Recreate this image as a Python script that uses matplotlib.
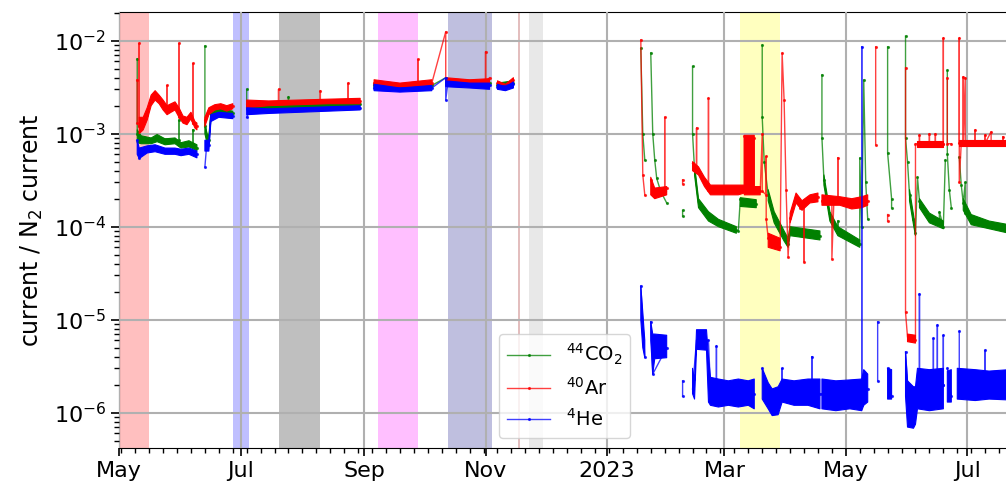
import numpy as np
import pandas as pd
import matplotlib
matplotlib.use('Agg')
import matplotlib.pyplot as plt
import matplotlib.dates as mdates
from matplotlib.ticker import FuncFormatter

# ratio traces (date, value); None marks a gap in the record
co2_trace = [
    ('2022-05-10', 6.4e-3), ('2022-05-10', 1.0e-3), ('2022-05-12', 8.5e-4), ('2022-05-20', 9.0e-4),
    ('2022-05-31', 8.5e-4), ('2022-05-31', 1.4e-3), ('2022-05-31', 7.8e-4), ('2022-06-07', 7.6e-4),
    ('2022-06-07', 1.1e-3), ('2022-06-07', 7.4e-4), ('2022-06-09', 7.0e-4), ('2022-06-11', None),
    ('2022-06-13', 8.8e-3), ('2022-06-13', 1.2e-3), ('2022-06-15', 8.5e-4), ('2022-06-16', 1.6e-3),
    ('2022-06-20', 1.75e-3), ('2022-06-27', 1.65e-3), ('2022-06-30', None),
    ('2022-07-04', 3.0e-3), ('2022-07-04', 1.95e-3), ('2022-07-25', 1.95e-3), ('2022-07-25', 2.5e-3),
    ('2022-07-25', 2.0e-3), ('2022-08-30', 2.1e-3), ('2022-09-02', None),
    ('2022-09-06', 3.3e-3), ('2022-10-05', 3.3e-3), ('2022-10-12', 4.0e-3), ('2022-10-13', 3.5e-3),
    ('2022-11-03', 3.5e-3), ('2022-11-05', None), ('2022-11-07', 3.3e-3), ('2022-11-15', 3.5e-3),
    ('2022-12-31', None),
    ('2023-01-18', 8.3e-3), ('2023-01-19', 1.0e-3), ('2023-01-20', 5.2e-4), ('2023-01-21', None),
    ('2023-01-23', 7.4e-3), ('2023-01-24', 1.0e-3), ('2023-01-25', 5.2e-4), ('2023-01-26', 3.3e-4),
    ('2023-01-28', 2.4e-4), ('2023-01-31', 1.8e-4), ('2023-02-02', None),
    ('2023-02-08', 1.5e-4), ('2023-02-08', 1.3e-4), ('2023-02-10', None),
    ('2023-02-13', 5.3e-3), ('2023-02-13', 1.0e-3), ('2023-02-14', 4.1e-4), ('2023-02-16', 1.8e-4),
    ('2023-02-21', 1.3e-4), ('2023-02-26', 1.1e-4), ('2023-03-07', 9.2e-5), ('2023-03-08', 9.0e-5),
    ('2023-03-09', 2.0e-4), ('2023-03-17', 1.75e-4), ('2023-03-18', None),
    ('2023-03-20', 9.0e-3), ('2023-03-20', 1.5e-3), ('2023-03-21', 5.0e-4), ('2023-03-23', 2.2e-4),
    ('2023-03-26', 1.3e-4), ('2023-03-31', 8.0e-5), ('2023-04-02', 6.5e-5), ('2023-04-03', 9.0e-5),
    ('2023-04-10', 8.5e-5), ('2023-04-18', 8.0e-5), ('2023-04-18', None),
    ('2023-04-19', 4.3e-3), ('2023-04-19', 9.0e-4), ('2023-04-20', 3.2e-4), ('2023-04-23', 1.3e-4),
    ('2023-04-27', 9.0e-5), ('2023-04-27', 1.15e-4), ('2023-04-27', 8.5e-5), ('2023-05-03', 7.5e-5),
    ('2023-05-08', 6.5e-5), ('2023-05-08', 5.5e-4), ('2023-05-09', 1.0e-4), ('2023-05-10', 3.8e-3),
    ('2023-05-11', 3.0e-4), ('2023-05-12', 1.2e-4), ('2023-05-14', None),
    ('2023-05-22', 8.6e-3), ('2023-05-22', 6.2e-4), ('2023-05-24', 2.0e-4), ('2023-05-24', 1.6e-4),
    ('2023-05-26', None),
    ('2023-05-31', 1.12e-2), ('2023-05-31', 9.0e-4), ('2023-06-01', 5.0e-4), ('2023-06-02', 2.2e-4),
    ('2023-06-04', 1.2e-4), ('2023-06-05', 8.5e-5), ('2023-06-06', 3.4e-4), ('2023-06-07', 1.9e-4),
    ('2023-06-10', 1.4e-4), ('2023-06-13', 1.15e-4), ('2023-06-17', 1.2e-4), ('2023-06-17', 1.45e-4),
    ('2023-06-19', 1.0e-4), ('2023-06-20', 5.2e-4), ('2023-06-20', None),
    ('2023-06-21', 4.8e-3), ('2023-06-21', 6.0e-4), ('2023-06-22', 2.5e-4), ('2023-06-23', 1.6e-4),
    ('2023-06-25', None),
    ('2023-06-27', 5.6e-4), ('2023-06-28', 2.8e-4), ('2023-06-29', 1.8e-4), ('2023-06-30', 3.0e-4),
    ('2023-06-30', 1.4e-4), ('2023-07-05', 1.15e-4), ('2023-07-12', 1.0e-4), ('2023-07-22', 9.2e-5),
]

ar_trace = [
    ('2022-05-10', 3.8e-3), ('2022-05-10', 1.3e-3), ('2022-05-11', 1.2e-3), ('2022-05-11', 9.4e-3),
    ('2022-05-11', 1.2e-3), ('2022-05-15', 1.6e-3), ('2022-05-17', 2.3e-3), ('2022-05-19', 2.6e-3),
    ('2022-05-21', 2.3e-3), ('2022-05-24', 2.0e-3), ('2022-05-25', 1.9e-3), ('2022-05-25', 3.3e-3),
    ('2022-05-25', 1.8e-3), ('2022-05-29', 2.0e-3), ('2022-05-31', 1.7e-3), ('2022-05-31', 9.4e-3),
    ('2022-05-31', 1.5e-3), ('2022-06-03', 1.4e-3), ('2022-06-05', 1.55e-3), ('2022-06-07', 1.3e-3),
    ('2022-06-07', 5.7e-3), ('2022-06-07', 1.3e-3), ('2022-06-09', 1.2e-3), ('2022-06-11', None),
    ('2022-06-13', 1.4e-3), ('2022-06-15', 1.75e-3), ('2022-06-18', 1.9e-3), ('2022-06-21', 2.0e-3),
    ('2022-06-24', 1.85e-3), ('2022-06-27', 2.0e-3), ('2022-06-30', None),
    ('2022-07-04', 2.1e-3), ('2022-07-20', 2.15e-3), ('2022-07-20', 3.0e-3), ('2022-07-20', 2.15e-3),
    ('2022-08-10', 2.2e-3), ('2022-08-10', 2.9e-3), ('2022-08-10', 2.2e-3), ('2022-08-24', 2.25e-3),
    ('2022-08-24', 3.5e-3), ('2022-08-24', 2.25e-3), ('2022-08-30', 2.25e-3), ('2022-09-02', None),
    ('2022-09-06', 3.5e-3), ('2022-09-19', 3.3e-3), ('2022-09-28', 3.5e-3), ('2022-09-28', 6.3e-3),
    ('2022-09-28', 3.5e-3), ('2022-10-05', 3.5e-3), ('2022-10-12', 1.25e-2), ('2022-10-12', 3.8e-3),
    ('2022-10-24', 3.6e-3), ('2022-11-01', 3.6e-3), ('2022-11-01', 7.6e-3), ('2022-11-01', 3.6e-3),
    ('2022-11-03', 4.0e-3), ('2022-11-05', None),
    ('2022-11-07', 3.5e-3), ('2022-11-11', 3.2e-3), ('2022-11-15', 3.8e-3), ('2022-12-31', None),
    ('2023-01-18', 1.02e-2), ('2023-01-19', 3.6e-4), ('2023-01-20', 2.2e-4), ('2023-01-21', None),
    ('2023-01-23', 3.2e-4), ('2023-01-25', 2.2e-4), ('2023-01-28', 2.4e-4), ('2023-01-30', 2.4e-4),
    ('2023-01-30', 1.5e-3), ('2023-01-30', 2.4e-4), ('2023-01-31', 2.6e-4), ('2023-02-02', None),
    ('2023-02-08', 3.2e-4), ('2023-02-08', 2.9e-4), ('2023-02-10', None),
    ('2023-02-13', 4.8e-4), ('2023-02-15', 4.3e-4), ('2023-02-15', 1.15e-3), ('2023-02-15', 4.2e-4),
    ('2023-02-18', 3.2e-4), ('2023-02-21', 2.6e-4), ('2023-02-21', 2.4e-3), ('2023-02-21', 2.5e-4),
    ('2023-02-26', 2.5e-4), ('2023-03-03', 2.6e-4), ('2023-03-07', 2.4e-4), ('2023-03-08', 2.4e-4),
    ('2023-03-11', 2.5e-4), ('2023-03-11', 9.5e-4), ('2023-03-16', 9.0e-4), ('2023-03-16', 2.4e-4),
    ('2023-03-19', 2.4e-4), ('2023-03-20', 1.0e-3), ('2023-03-20', 2.4e-4), ('2023-03-22', 2.2e-4),
    ('2023-03-22', 5.7e-4), ('2023-03-22', 1.2e-4), ('2023-03-23', 7.5e-5), ('2023-03-26', 6.5e-5),
    ('2023-03-29', 6.0e-5), ('2023-03-30', 7.4e-3), ('2023-03-31', 2.3e-3), ('2023-04-01', 2.5e-4),
    ('2023-04-02', 4.7e-5), ('2023-04-03', 1.25e-4), ('2023-04-06', 2.1e-4), ('2023-04-08', 1.6e-4),
    ('2023-04-10', 1.8e-4), ('2023-04-10', 4.2e-5), ('2023-04-10', 1.8e-4), ('2023-04-12', 2.0e-4),
    ('2023-04-17', 2.1e-4), ('2023-04-18', None),
    ('2023-04-19', 1.9e-4), ('2023-04-24', 1.9e-4), ('2023-04-24', 4.5e-5), ('2023-04-25', 1.9e-4),
    ('2023-04-27', 1.85e-4), ('2023-04-27', 5.5e-4), ('2023-04-27', 1.85e-4), ('2023-05-03', 1.8e-4),
    ('2023-05-06', 1.7e-4), ('2023-05-09', 1.8e-4), ('2023-05-12', 1.9e-4), ('2023-05-14', None),
    ('2023-05-16', 8.6e-3), ('2023-05-16', 7.6e-4), ('2023-05-18', None),
    ('2023-05-22', 1.35e-4), ('2023-05-22', 1.15e-4), ('2023-05-26', None),
    ('2023-05-31', 5.1e-3), ('2023-05-31', 1.2e-5), ('2023-06-01', 6.5e-6), ('2023-06-05', 6.0e-6),
    ('2023-06-05', 7.8e-4), ('2023-06-07', 7.8e-4), ('2023-06-07', 9.7e-4), ('2023-06-07', 7.8e-4),
    ('2023-06-12', 7.8e-4), ('2023-06-12', 1.0e-3), ('2023-06-12', 7.8e-4), ('2023-06-15', 7.8e-4),
    ('2023-06-15', 1.0e-3), ('2023-06-15', 7.8e-4), ('2023-06-19', 7.8e-4), ('2023-06-19', 1.07e-2),
    ('2023-06-19', 7.8e-4), ('2023-06-20', None),
    ('2023-06-21', 4.0e-3), ('2023-06-21', 7.8e-4), ('2023-06-23', 7.8e-4), ('2023-06-25', None),
    ('2023-06-27', 7.9e-4), ('2023-06-27', 1.07e-2), ('2023-06-27', 3.0e-4), ('2023-06-28', 7.9e-4),
    ('2023-06-29', 7.9e-4), ('2023-06-29', 4.1e-3), ('2023-06-29', 7.9e-4), ('2023-06-30', 4.0e-3),
    ('2023-06-30', 7.9e-4), ('2023-07-05', 7.9e-4), ('2023-07-05', 1.1e-3), ('2023-07-05', 7.9e-4),
    ('2023-07-10', 7.9e-4), ('2023-07-10', 9.7e-4), ('2023-07-10', 7.9e-4), ('2023-07-13', 1.05e-3),
    ('2023-07-13', 7.9e-4), ('2023-07-19', 7.9e-4), ('2023-07-19', 9.3e-4), ('2023-07-19', 7.9e-4),
    ('2023-07-22', 7.9e-4),
]

he_trace = [
    ('2022-05-10', 8.5e-4), ('2022-05-11', 5.5e-4), ('2022-05-15', 6.8e-4), ('2022-06-09', 6.0e-4),
    ('2022-06-11', None),
    ('2022-06-13', 4.4e-4), ('2022-06-14', 8.0e-4), ('2022-06-15', 7.5e-4), ('2022-06-16', 1.5e-3),
    ('2022-06-27', 1.55e-3), ('2022-06-30', None),
    ('2022-07-04', 1.5e-3), ('2022-07-05', 1.75e-3), ('2022-08-30', 1.9e-3), ('2022-09-02', None),
    ('2022-09-06', 3.1e-3), ('2022-10-05', 3.1e-3), ('2022-10-12', 4.0e-3), ('2022-10-12', 2.3e-3),
    ('2022-10-13', 3.4e-3), ('2022-11-03', 3.3e-3), ('2022-11-05', None),
    ('2022-11-07', 3.2e-3), ('2022-11-15', 3.4e-3), ('2022-12-31', None),
    ('2023-01-18', 2.3e-5), ('2023-01-20', 4.0e-6), ('2023-01-21', None),
    ('2023-01-23', 9.5e-6), ('2023-01-24', 2.6e-6), ('2023-01-31', 5.0e-6), ('2023-02-02', None),
    ('2023-02-08', 2.2e-6), ('2023-02-08', 1.5e-6), ('2023-02-10', None),
    ('2023-02-13', 1.8e-6), ('2023-02-15', 6.0e-6), ('2023-02-21', 6.0e-6), ('2023-02-22', 1.8e-6),
    ('2023-02-25', 1.7e-6), ('2023-02-25', 5.2e-6), ('2023-02-25', 1.7e-6), ('2023-03-16', 1.6e-6),
    ('2023-03-18', None),
    ('2023-03-20', 3.0e-6), ('2023-03-22', 1.8e-6), ('2023-03-30', 1.6e-6), ('2023-03-30', 3.0e-6),
    ('2023-03-30', 1.6e-6), ('2023-04-14', 1.7e-6), ('2023-04-14', 4.0e-6), ('2023-04-14', 1.7e-6),
    ('2023-04-18', 1.6e-6), ('2023-04-18', None),
    ('2023-04-19', 1.6e-6), ('2023-05-09', 1.6e-6), ('2023-05-09', 8.6e-3), ('2023-05-09', 1.2e-6),
    ('2023-05-10', 2.0e-6), ('2023-05-12', 1.8e-6), ('2023-05-14', None),
    ('2023-05-17', 9.5e-6), ('2023-05-17', 2.2e-6), ('2023-05-19', None),
    ('2023-05-22', 3.0e-6), ('2023-05-24', 1.5e-6), ('2023-05-26', None),
    ('2023-05-31', 4.5e-6), ('2023-06-02', 1.0e-6), ('2023-06-05', 1.0e-6), ('2023-06-07', 2.0e-6),
    ('2023-06-07', 1.9e-5), ('2023-06-07', 2.0e-6), ('2023-06-14', 2.0e-6), ('2023-06-14', 6.3e-6),
    ('2023-06-14', 2.0e-6), ('2023-06-16', 2.0e-6), ('2023-06-16', 8.8e-6), ('2023-06-16', 2.0e-6),
    ('2023-06-19', 2.0e-6), ('2023-06-19', 6.8e-6), ('2023-06-19', 2.0e-6), ('2023-06-20', None),
    ('2023-06-21', 3.0e-6), ('2023-06-23', 1.5e-6), ('2023-06-25', None),
    ('2023-06-27', 7.5e-6), ('2023-06-27', 2.0e-6), ('2023-07-10', 2.0e-6), ('2023-07-10', 4.7e-6),
    ('2023-07-10', 2.0e-6), ('2023-07-22', 2.0e-6),
]

# scatter envelopes of the dense sampling (date, low, high)
co2_band = [
    ('2022-05-10', 8.0e-4, 1.1e-3), ('2022-05-12', 7.8e-4, 9.5e-4), ('2022-05-17', 7.8e-4, 9.0e-4),
    ('2022-05-20', 8.2e-4, 9.8e-4), ('2022-05-24', 7.6e-4, 8.8e-4), ('2022-05-29', 7.8e-4, 9.0e-4),
    ('2022-06-01', 7.0e-4, 8.0e-4), ('2022-06-05', 7.2e-4, 8.4e-4), ('2022-06-09', 6.6e-4, 7.6e-4),
    ('2022-06-11', None, None),
    ('2022-06-13', 1.0e-3, 1.4e-3), ('2022-06-14', 8.0e-4, 1.0e-3), ('2022-06-15', 8.0e-4, 9.5e-4),
    ('2022-06-16', 1.4e-3, 1.7e-3), ('2022-06-20', 1.65e-3, 1.85e-3), ('2022-06-27', 1.55e-3, 1.75e-3),
    ('2022-06-30', None, None),
    ('2022-07-04', 1.8e-3, 2.1e-3), ('2022-07-20', 1.85e-3, 2.05e-3), ('2022-07-30', 1.9e-3, 2.1e-3),
    ('2022-08-30', 2.0e-3, 2.2e-3), ('2022-09-02', None, None),
    ('2022-09-06', 3.1e-3, 3.5e-3), ('2022-09-19', 2.9e-3, 3.3e-3), ('2022-10-05', 3.1e-3, 3.5e-3),
    ('2022-10-08', None, None),
    ('2022-10-12', 3.3e-3, 3.8e-3), ('2022-11-03', 3.2e-3, 3.7e-3), ('2022-11-05', None, None),
    ('2022-11-07', 3.2e-3, 3.5e-3), ('2022-11-15', 3.3e-3, 3.7e-3), ('2022-12-31', None, None),
    ('2023-02-14', 3.6e-4, 4.6e-4), ('2023-02-16', 1.6e-4, 2.0e-4), ('2023-02-21', 1.15e-4, 1.45e-4),
    ('2023-02-26', 1.0e-4, 1.2e-4), ('2023-03-07', 8.5e-5, 1.0e-4), ('2023-03-08', None, None),
    ('2023-03-09', 1.65e-4, 2.05e-4), ('2023-03-17', 1.6e-4, 1.95e-4), ('2023-03-18', None, None),
    ('2023-03-23', 1.9e-4, 2.5e-4), ('2023-03-26', 1.1e-4, 1.45e-4), ('2023-03-31', 7.0e-5, 9.0e-5),
    ('2023-04-02', 6.0e-5, 7.5e-5), ('2023-04-03', 8.0e-5, 1.0e-4), ('2023-04-18', 7.2e-5, 9.0e-5),
    ('2023-04-18', None, None),
    ('2023-04-20', 2.8e-4, 3.6e-4), ('2023-04-23', 1.15e-4, 1.45e-4), ('2023-04-27', 8.0e-5, 1.0e-4),
    ('2023-05-08', 6.0e-5, 7.2e-5), ('2023-05-09', None, None),
    ('2023-06-02', 1.9e-4, 2.5e-4), ('2023-06-04', 1.05e-4, 1.35e-4), ('2023-06-05', 8.0e-5, 9.5e-5),
    ('2023-06-06', None, None),
    ('2023-06-07', 1.6e-4, 2.0e-4), ('2023-06-12', 1.1e-4, 1.4e-4), ('2023-06-19', 9.5e-5, 1.15e-4),
    ('2023-06-20', None, None),
    ('2023-06-29', 1.5e-4, 2.0e-4), ('2023-07-03', 1.05e-4, 1.35e-4), ('2023-07-12', 9.5e-5, 1.15e-4),
    ('2023-07-22', 8.5e-5, 1.05e-4),
]

ar_band = [
    ('2022-05-11', 1.0e-3, 1.5e-3), ('2022-05-13', 1.1e-3, 1.5e-3), ('2022-05-15', 1.4e-3, 1.9e-3),
    ('2022-05-17', 2.0e-3, 2.6e-3), ('2022-05-19', 2.3e-3, 2.9e-3), ('2022-05-21', 2.1e-3, 2.6e-3),
    ('2022-05-23', 1.8e-3, 2.3e-3), ('2022-05-25', 1.6e-3, 2.0e-3), ('2022-05-27', 1.7e-3, 2.1e-3),
    ('2022-05-29', 1.8e-3, 2.2e-3), ('2022-05-31', 1.5e-3, 1.9e-3), ('2022-06-02', 1.3e-3, 1.55e-3),
    ('2022-06-04', 1.25e-3, 1.5e-3), ('2022-06-06', 1.45e-3, 1.7e-3), ('2022-06-08', 1.15e-3, 1.35e-3),
    ('2022-06-09', 1.1e-3, 1.3e-3), ('2022-06-11', None, None),
    ('2022-06-13', 1.2e-3, 1.5e-3), ('2022-06-15', 1.6e-3, 1.9e-3), ('2022-06-18', 1.8e-3, 2.05e-3),
    ('2022-06-21', 1.85e-3, 2.1e-3), ('2022-06-24', 1.75e-3, 2.0e-3), ('2022-06-27', 1.85e-3, 2.1e-3),
    ('2022-06-30', None, None),
    ('2022-07-04', 1.9e-3, 2.3e-3), ('2022-07-15', 2.0e-3, 2.25e-3), ('2022-07-30', 2.05e-3, 2.3e-3),
    ('2022-08-14', 2.1e-3, 2.35e-3), ('2022-08-30', 2.1e-3, 2.4e-3), ('2022-09-02', None, None),
    ('2022-09-06', 3.3e-3, 3.8e-3), ('2022-09-19', 3.1e-3, 3.5e-3), ('2022-10-05', 3.3e-3, 3.8e-3),
    ('2022-10-08', None, None),
    ('2022-10-12', 3.5e-3, 4.0e-3), ('2022-10-24', 3.4e-3, 3.8e-3), ('2022-11-03', 3.4e-3, 3.9e-3),
    ('2022-11-05', None, None),
    ('2022-11-07', 3.3e-3, 3.7e-3), ('2022-11-11', 3.1e-3, 3.4e-3), ('2022-11-15', 3.5e-3, 4.0e-3),
    ('2022-12-31', None, None),
    ('2023-01-23', 2.2e-4, 3.4e-4), ('2023-01-25', 2.0e-4, 2.6e-4), ('2023-01-31', 2.2e-4, 2.7e-4),
    ('2023-02-02', None, None),
    ('2023-02-13', 4.0e-4, 5.0e-4), ('2023-02-16', 3.6e-4, 4.4e-4), ('2023-02-19', 2.7e-4, 3.4e-4),
    ('2023-02-22', 2.2e-4, 2.8e-4), ('2023-03-01', 2.2e-4, 2.8e-4), ('2023-03-08', 2.2e-4, 2.8e-4),
    ('2023-03-11', 2.3e-4, 2.8e-4), ('2023-03-11', 2.2e-4, 9.6e-4), ('2023-03-16', 2.2e-4, 9.6e-4),
    ('2023-03-16', 2.2e-4, 2.7e-4), ('2023-03-19', 2.2e-4, 2.7e-4), ('2023-03-21', None, None),
    ('2023-03-23', 6.0e-5, 8.5e-5), ('2023-03-29', 5.5e-5, 7.5e-5), ('2023-03-30', None, None),
    ('2023-04-03', 1.1e-4, 1.4e-4), ('2023-04-06', 1.8e-4, 2.3e-4), ('2023-04-09', 1.5e-4, 1.9e-4),
    ('2023-04-13', 1.8e-4, 2.2e-4), ('2023-04-17', 1.85e-4, 2.3e-4), ('2023-04-18', None, None),
    ('2023-04-19', 1.7e-4, 2.2e-4), ('2023-04-28', 1.7e-4, 2.1e-4), ('2023-05-04', 1.55e-4, 2.0e-4),
    ('2023-05-09', 1.6e-4, 2.1e-4), ('2023-05-12', 1.7e-4, 2.2e-4), ('2023-05-14', None, None),
    ('2023-06-01', 5.8e-6, 7.0e-6), ('2023-06-05', 5.6e-6, 6.8e-6), ('2023-06-05', None, None),
    ('2023-06-06', 7.2e-4, 8.4e-4), ('2023-06-19', 7.2e-4, 8.4e-4), ('2023-06-20', None, None),
    ('2023-06-27', 7.4e-4, 8.6e-4), ('2023-07-22', 7.4e-4, 8.6e-4),
]

he_band = [
    ('2022-05-10', 6.0e-4, 8.5e-4), ('2022-05-11', 5.4e-4, 7.0e-4), ('2022-05-15', 6.2e-4, 7.4e-4),
    ('2022-05-19', 6.4e-4, 7.6e-4), ('2022-05-24', 6.0e-4, 7.0e-4), ('2022-05-29', 6.0e-4, 7.0e-4),
    ('2022-06-01', 5.8e-4, 6.8e-4), ('2022-06-05', 6.0e-4, 7.0e-4), ('2022-06-09', 5.5e-4, 6.5e-4),
    ('2022-06-11', None, None),
    ('2022-06-13', 6.5e-4, 8.5e-4), ('2022-06-15', 6.5e-4, 8.5e-4), ('2022-06-16', 1.35e-3, 1.6e-3),
    ('2022-06-20', 1.5e-3, 1.7e-3), ('2022-06-27', 1.45e-3, 1.65e-3), ('2022-06-30', None, None),
    ('2022-07-04', 1.6e-3, 1.9e-3), ('2022-07-15', 1.65e-3, 1.85e-3), ('2022-08-30', 1.8e-3, 2.0e-3),
    ('2022-09-02', None, None),
    ('2022-09-06', 2.9e-3, 3.4e-3), ('2022-09-19', 2.8e-3, 3.1e-3), ('2022-10-05', 2.9e-3, 3.3e-3),
    ('2022-10-08', None, None),
    ('2022-10-12', 3.2e-3, 3.7e-3), ('2022-10-24', 3.1e-3, 3.5e-3), ('2022-11-03', 3.0e-3, 3.5e-3),
    ('2022-11-05', None, None),
    ('2022-11-07', 3.0e-3, 3.4e-3), ('2022-11-11', 2.9e-3, 3.2e-3), ('2022-11-15', 3.1e-3, 3.6e-3),
    ('2022-12-31', None, None),
    ('2023-01-18', 1.0e-5, 2.3e-5), ('2023-01-19', 5.0e-6, 1.2e-5), ('2023-01-20', 3.9e-6, 6.0e-6),
    ('2023-01-21', None, None),
    ('2023-01-23', 6.0e-6, 9.5e-6), ('2023-01-24', 2.6e-6, 7.0e-6), ('2023-01-25', 3.8e-6, 7.0e-6),
    ('2023-01-31', 3.9e-6, 6.8e-6), ('2023-02-02', None, None),
    ('2023-02-13', 1.6e-6, 3.0e-6), ('2023-02-14', 1.4e-6, 2.2e-6), ('2023-02-15', 4.8e-6, 7.8e-6),
    ('2023-02-20', 4.7e-6, 7.8e-6), ('2023-02-21', 1.3e-6, 4.0e-6), ('2023-02-22', 1.2e-6, 2.4e-6),
    ('2023-02-26', 1.15e-6, 2.3e-6), ('2023-03-03', 1.2e-6, 2.2e-6), ('2023-03-08', 1.15e-6, 2.3e-6),
    ('2023-03-13', 1.2e-6, 2.2e-6), ('2023-03-16', 1.1e-6, 2.3e-6), ('2023-03-18', None, None),
    ('2023-03-20', 1.4e-6, 3.0e-6), ('2023-03-23', 1.1e-6, 2.1e-6), ('2023-03-25', 9.3e-7, 1.8e-6),
    ('2023-03-28', 9.5e-7, 1.9e-6), ('2023-03-30', 1.3e-6, 2.3e-6), ('2023-04-05', 1.2e-6, 2.2e-6),
    ('2023-04-12', 1.2e-6, 2.3e-6), ('2023-04-18', 1.1e-6, 2.3e-6), ('2023-04-18', None, None),
    ('2023-04-19', 1.1e-6, 2.3e-6), ('2023-04-26', 1.05e-6, 2.2e-6), ('2023-05-03', 1.1e-6, 2.25e-6),
    ('2023-05-09', 1.05e-6, 2.3e-6), ('2023-05-10', 1.2e-6, 2.9e-6), ('2023-05-12', 1.3e-6, 2.6e-6),
    ('2023-05-14', None, None),
    ('2023-05-22', 1.4e-6, 3.0e-6), ('2023-05-24', 1.4e-6, 2.9e-6), ('2023-05-26', None, None),
    ('2023-05-31', 1.5e-6, 4.5e-6), ('2023-06-01', 7.0e-7, 2.2e-6), ('2023-06-04', 6.8e-7, 1.9e-6),
    ('2023-06-05', 7.5e-7, 1.9e-6), ('2023-06-06', 1.1e-6, 3.0e-6), ('2023-06-12', 1.05e-6, 2.9e-6),
    ('2023-06-19', 1.1e-6, 3.0e-6), ('2023-06-20', None, None),
    ('2023-06-21', 1.3e-6, 2.8e-6), ('2023-06-23', 1.3e-6, 2.9e-6), ('2023-06-25', None, None),
    ('2023-06-26', 1.4e-6, 3.0e-6), ('2023-07-05', 1.35e-6, 2.9e-6), ('2023-07-12', 1.4e-6, 2.8e-6),
    ('2023-07-22', 1.37e-6, 2.9e-6),
]

# shaded periods (start, end, colour, alpha)
periods = [
    ('2022-05-01', '2022-05-16', 'red', 0.25),
    ('2022-06-27', '2022-07-05', 'blue', 0.25),
    ('2022-07-20', '2022-08-10', 'black', 0.25),
    ('2022-09-08', '2022-09-28', 'magenta', 0.25),
    ('2022-10-13', '2022-11-04', 'navy', 0.25),
    ('2022-11-17 12:00', '2022-11-18 12:00', 'brown', 0.3),
    ('2022-11-23', '2022-11-30', 'gray', 0.18),
    ('2023-03-09', '2023-03-29', 'yellow', 0.25),
]

labels = [r'$^{44}$CO$_2$', r'$^{40}$Ar', r'$^{4}$He']
colors = ['green', 'red', 'blue']


def unpack_trace(pairs):
    t = pd.to_datetime([p[0] for p in pairs])
    v = np.array([np.nan if p[1] is None else p[1] for p in pairs], dtype=float)
    return t, v


def unpack_band(rows):
    t = pd.to_datetime([r[0] for r in rows])
    lo = np.array([np.nan if r[1] is None else r[1] for r in rows], dtype=float)
    hi = np.array([np.nan if r[2] is None else r[2] for r in rows], dtype=float)
    return t, lo, hi


fig = plt.figure(figsize=(10.06, 4.86), dpi=100)
ax = fig.add_axes([0.1186, 0.0788, 0.8854, 0.8959])

for start, end, c, a in periods:
    ax.axvspan(pd.Timestamp(start), pd.Timestamp(end), color=c, alpha=a, lw=0, zorder=0)

for trace, band, c, lab in zip([co2_trace, ar_trace, he_trace], [co2_band, ar_band, he_band],
                              colors, labels):
    bt, lo, hi = unpack_band(band)
    ax.fill_between(bt, lo, hi, color=c, lw=0.8, zorder=3)
    t, v = unpack_trace(trace)
    ax.plot(t, v, color=c, lw=1, marker='.', ms=2.5, alpha=0.75, label=lab, zorder=3)

ax.set_yscale('log')
ax.set_ylim(4.2e-7, 2.02e-2)
ax.set_xlim(pd.Timestamp('2022-05-01'), pd.Timestamp('2023-07-22 12:00'))

ax.xaxis.set_major_locator(mdates.MonthLocator(bymonth=[1, 3, 5, 7, 9, 11]))
ax.xaxis.set_minor_locator(mdates.WeekdayLocator(byweekday=mdates.MO))


def month_label(x, pos):
    d = mdates.num2date(x)
    return d.strftime('%Y') if d.month == 1 else d.strftime('%b')


ax.xaxis.set_major_formatter(FuncFormatter(month_label))

ax.tick_params(axis='both', which='major', labelsize=16, length=6, width=1.2)
ax.tick_params(axis='both', which='minor', length=3.5, width=1)
ax.grid(True, which='major', color='#b0b0b0', lw=1.5, zorder=1)
ax.set_axisbelow(False)
ax.set_ylabel('current / N$_2$ current', fontsize=17, labelpad=6)

ax.legend(loc='lower center', fontsize=14, handlelength=2.2)

fig.savefig('out.png', dpi=100)
